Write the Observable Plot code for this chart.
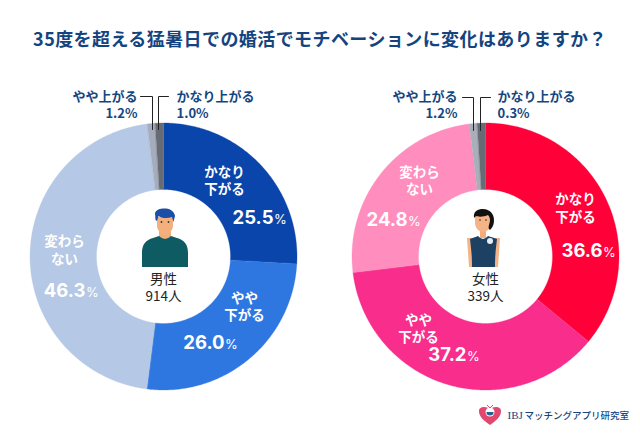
<!DOCTYPE html>
<html lang="ja">
<head>
<meta charset="utf-8">
<script src="https://cdn.jsdelivr.net/npm/d3@7"></script>
<script src="https://cdn.jsdelivr.net/npm/@observablehq/plot@0.6"></script>
<style>
html,body{margin:0;padding:0;background:#fff;width:640px;height:434px;overflow:hidden}
#title{height:50px;box-sizing:border-box;padding-top:25px;text-align:center;font:700 18px/26px "Noto Sans CJK JP",sans-serif;color:#14447f;letter-spacing:.42px;white-space:nowrap}
svg{display:block}
</style>
</head>
<body>
<div id="title">35度を超える猛暑日での婚活でモチベーションに変化はありますか？</div>
<div id="chart"></div>
<script>
const categories = ["かなり下がる","やや下がる","変わらない","やや上がる","かなり上がる"];
// percentages printed on the chart
const maleValues = [25.5,26.0,46.3,1.2,1.0];
const femaleValues = [36.6,37.2,24.8,1.2,0.3];
// shares of the ring as actually drawn in the picture
const maleDrawn = [25.9,26.1,46.05,0.95,1.0];
const femaleDrawn = [36.0,37.1,24.95,0.95,1.0];
const maleColors = ["#0a45ab","#2f77e0","#b5c8e5","#a5adbd","#676b73"];
const femaleColors = ["#ff0038","#f82d8c","#ff8dbd","#a9aebb","#676b73"];
const font = '"Noto Sans CJK JP",sans-serif';
const numFont = 'Inter,"Noto Sans",sans-serif';
const navy = "#14477f";

const R = 133.5, r = 67, cy = 256;
function slices(values, cx, gender){
  const total = d3.sum(values), pts = [];
  let cum = 0;
  values.forEach((v,i)=>{
    const a0 = cum/total*2*Math.PI; cum += v;
    const a1 = cum/total*2*Math.PI;
    const n = Math.max(2, Math.ceil((a1-a0)/0.01));
    const key = gender+i;
    const p = rad => t => { const a=a0+(a1-a0)*t/n; return {x:cx+rad*Math.sin(a), y:cy-rad*Math.cos(a), key}; };
    d3.range(n+1).forEach(t=>pts.push(p(R)(t)));
    d3.range(n,-1,-1).forEach(t=>pts.push(p(r)(t)));
  });
  return pts;
}
const slicePts = [...slices(maleDrawn,163,"m"), ...slices(femaleDrawn,485,"f")];
const keys = [...maleColors.map((_,i)=>"m"+i), ...femaleColors.map((_,i)=>"f"+i)];

// label placements
const catLabels = [
  {t:"かなり\n下がる",x:224,y:179.5},{t:"やや\n下がる",x:244,y:305.5},{t:"変わら\nない",x:64,y:249},
  {t:"かなり\n下がる",x:575,y:207},{t:"やや\n下がる",x:418,y:327.5},{t:"変わら\nない",x:419,y:179.5}
];
const pctLabels = [
  {v:maleValues[0],x:273,y:218},{v:maleValues[1],x:224,y:343},{v:maleValues[2],x:85,y:291},
  {v:femaleValues[0],x:602,y:251},{v:femaleValues[1],x:466,y:355},{v:femaleValues[2],x:407,y:220}
];
const topLeft = [
  {t:"やや上がる\n"+maleValues[3].toFixed(1)+"%",x:137,y:103.5},
  {t:"やや上がる\n"+femaleValues[3].toFixed(1)+"%",x:457,y:103.5}
];
const topRight = [
  {t:"かなり上がる\n"+maleValues[4].toFixed(1)+"%",x:176,y:103.5},
  {t:"かなり上がる\n"+femaleValues[4].toFixed(1)+"%",x:497,y:103.5}
];
const centers = [{t:"男性\n914人",x:163,y:286.5},{t:"女性\n339人",x:485,y:286.5}];
const leaders = [
  {k:"a",x:140,y:96},{k:"a",x:152,y:96},{k:"a",x:152,y:129},
  {k:"b",x:168,y:96},{k:"b",x:158,y:96},{k:"b",x:158,y:129},
  {k:"c",x:462,y:97},{k:"c",x:473,y:97},{k:"c",x:473,y:130},
  {k:"d",x:490,y:97},{k:"d",x:480,y:97},{k:"d",x:480,y:130}
];

function glyph(x,y,html){
  return (index,scales)=>{
    const g=document.createElementNS("http://www.w3.org/2000/svg","g");
    g.setAttribute("transform",`translate(${scales.x(x)},${scales.y(y)})`);
    g.innerHTML=html;
    return g;
  };
}
const manIcon = `
 <path d="M-6 8H6V18H-6Z" fill="#f3ad78"/>
 <path d="M-23 44V30C-23 21-19 17-12 15L-6 13Q0 19 6 13L12 15C19 17 23 21 23 30V44Z" fill="#0f5b63"/>
 <path d="M-8 -6H8V2C8 8 4 11 0 11S-8 8-8 2Z" fill="#f4b07c"/>
 <path d="M-9.5 -3L-10 -10C-9 -14-3 -15 1 -14.5C6 -14 9.5 -11 10 -7L8.5 -1L7 -6C2 -4-4 -5-6.5 -7L-8 -2Z" fill="#1b4fa6"/>
 <circle cx="-3.5" cy="-1" r=".9" fill="#333"/><circle cx="3.5" cy="-1" r=".9" fill="#333"/>`;
const womanIcon = `
 <path d="M-3 8H3V18H-3Z" fill="#f3ad78"/>
 <path d="M-16 18H-11L-11 47H-14Z M17 18H12V47H15Z" fill="#f3b488"/>
 <path d="M-13 19C-11 18-7 17-5 16Q0 22 5 16C7 17 12 18 14 19C13 28 12 34 12 47H-11C-11 34-12 28-13 19Z" fill="#1d4163"/>
 <path d="M-8 -6H8V3C8 8 4 12 0 12S-8 8-8 3Z" fill="#f4b488"/>
 <path d="M-9 -2C-10 -9-5 -11 0 -11C7 -11 11 -6 11 0C11 4 10 6 8 9C6 11 5 8 6 5C7 2 8 -2 5 -5C1 -3-5 -3-7 -4Z" fill="#111"/>
 <circle cx="-3" cy="0" r=".8" fill="#222"/><circle cx="3" cy="0" r=".8" fill="#222"/>
 <circle cx="7" cy="21" r="3" fill="#e8eef5"/>`;
const heart = `
 <path d="M0 10C-9 4-11 0-11 -4C-11 -7-8.5 -8-6 -8C-3 -8-1 -7 0 -5C1 -7 3 -8 6 -8C8.5 -8 11 -7 11 -4C11 0 9 4 0 10Z" fill="#e2476f"/>
 <circle cx="0" cy="-3" r="4.5" fill="#fff"/><path d="M-3.6 -3H3.6A3.6 3.6 0 0 1-3.6 -3Z" fill="#2a5f96"/>
 <path d="M-3 -10L0 -7L3 -10" fill="none" stroke="#e2476f" stroke-width="1"/>`;

const plot = Plot.plot({
  width:640, height:384, margin:0,
  x:{domain:[0,640],range:[0,640],axis:null},
  y:{domain:[50,434],range:[0,384],axis:null},
  color:{domain:keys,range:[...maleColors,...femaleColors]},
  style:{background:"#fff"},
  marks:[
    Plot.line(slicePts,{x:"x",y:"y",z:"key",fill:"key",stroke:"key",strokeWidth:.3,curve:"linear-closed"}),
    Plot.line(leaders,{x:"x",y:"y",z:"k",stroke:"#222",strokeWidth:1}),
    Plot.text(catLabels,{x:"x",y:"y",text:"t",fill:"#fff",fontSize:13.5,fontWeight:700,fontFamily:font,lineHeight:1.27}),
    Plot.text(pctLabels,{x:"x",y:"y",text:d=>d.v.toFixed(1),textAnchor:"end",fill:"#fff",fontSize:18.5,fontWeight:700,fontFamily:numFont}),
    Plot.text(pctLabels,{x:d=>d.x+.5,y:d=>d.y+1,text:()=>"%",textAnchor:"start",fill:"#fff",fontSize:13,fontFamily:numFont}),
    Plot.text(topLeft,{x:"x",y:"y",text:"t",textAnchor:"end",fill:navy,fontSize:13,fontWeight:700,fontFamily:font,lineHeight:1.3}),
    Plot.text(topRight,{x:"x",y:"y",text:"t",textAnchor:"start",fill:navy,fontSize:13,fontWeight:700,fontFamily:font,lineHeight:1.3}),
    Plot.text(centers,{x:"x",y:"y",text:"t",fill:"#222",fontSize:13.5,fontFamily:font,lineHeight:1.25}),
    glyph(165,223,manIcon),
    glyph(483,220,womanIcon),
    glyph(490,415,heart),
    Plot.text([{t:"IBJ",x:507,y:415}],{x:"x",y:"y",text:"t",textAnchor:"start",fill:navy,fontSize:11,fontFamily:'"Liberation Serif",serif'}),
    Plot.text([{t:"マッチングアプリ研究室",x:524,y:415}],{x:"x",y:"y",text:"t",textAnchor:"start",fill:navy,fontSize:9.5,fontWeight:500,fontFamily:font})
  ]
});
document.getElementById("chart").append(plot);
</script>
</body>
</html>
